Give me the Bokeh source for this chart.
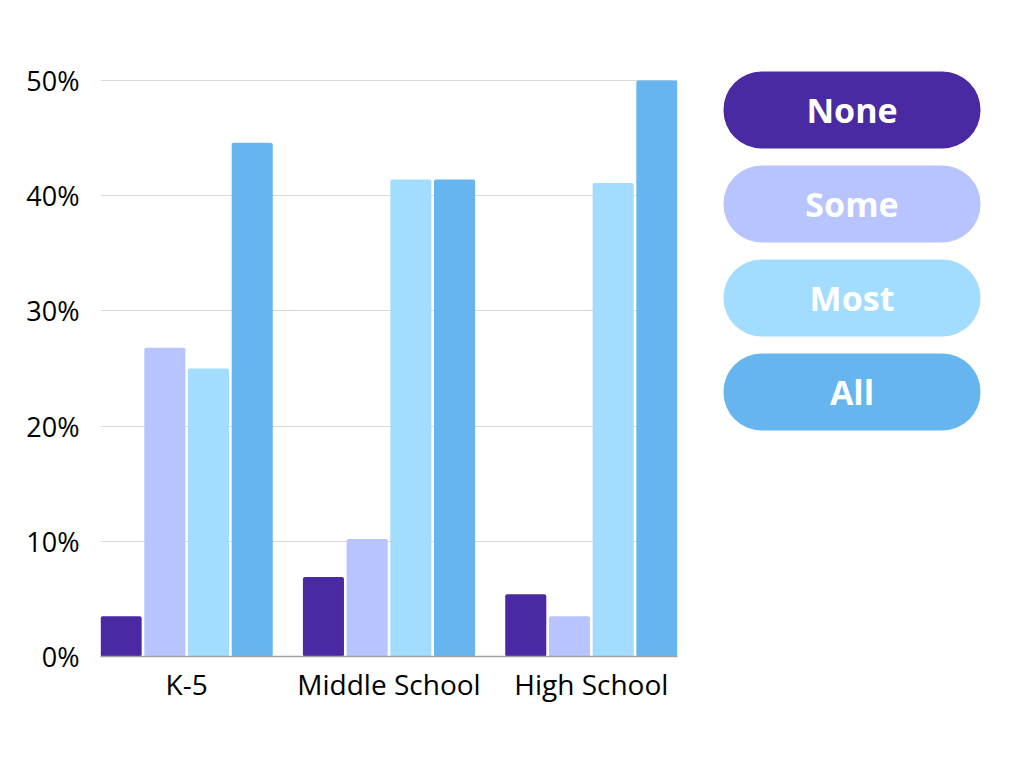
from bokeh.plotting import figure
from bokeh.layouts import row
from bokeh.models import Range1d, FixedTicker, ColumnDataSource
from bokeh.core.properties import value
from bokeh.embed import file_html
from bokeh.resources import INLINE

categories = ["K-5", "Middle School", "High School"]
series = ["None", "Some", "Most", "All"]
none_vals = [3.5, 6.9, 5.4]
some_vals = [26.8, 10.2, 3.5]
most_vals = [25.0, 41.4, 41.1]
all_vals = [44.6, 41.4, 50.0]
colors = ["#4A2AA3", "#B8C4FE", "#A2DCFE", "#66B5EE"]
y_ticks = [0, 10, 20, 30, 40, 50]

FONT = "Open Sans"
values_by_series = [none_vals, some_vals, most_vals, all_vals]
offsets = [-0.324, -0.108, 0.108, 0.324]
bar_w = 0.203

# frame: page x 100..677, page y 57..656 (0..52 %)
p = figure(width=700, height=752, output_backend="svg", toolbar_location=None,
           x_range=Range1d(-0.426, 2.426), y_range=Range1d(0, 52),
           min_border_left=100, min_border_right=23, min_border_top=57,
           min_border_bottom=96)
p.outline_line_color = None
p.background_fill_color = "white"
p.border_fill_color = "white"

for s, vals, off, col in zip(series, values_by_series, offsets, colors):
    src = ColumnDataSource(dict(x=[i + off for i in range(len(categories))], top=vals))
    p.vbar(x="x", top="top", bottom=0, width=bar_w, source=src, fill_color=col,
           line_color=None, border_radius=2)

p.xgrid.visible = False
p.ygrid.grid_line_color = "#d9d9d9"
p.ygrid.grid_line_width = 1
p.ygrid.ticker = FixedTicker(ticks=y_ticks)

p.yaxis.ticker = FixedTicker(ticks=y_ticks)
p.yaxis.major_label_overrides = {t: f"{t}%" for t in y_ticks}
p.yaxis.axis_line_color = None
p.yaxis.major_tick_line_color = None
p.yaxis.minor_tick_line_color = None
p.yaxis.major_label_standoff = 15
p.yaxis.major_label_text_font = FONT
p.yaxis.major_label_text_font_size = "27px"
p.yaxis.major_label_text_color = "#000000"

p.xaxis.ticker = FixedTicker(ticks=list(range(len(categories))))
p.xaxis.major_label_overrides = {i: c for i, c in enumerate(categories)}
p.xaxis.axis_line_color = "#a0a0a0"
p.xaxis.axis_line_width = 1.5
p.xaxis.major_tick_line_color = None
p.xaxis.minor_tick_line_color = None
p.xaxis.major_label_standoff = 2
p.xaxis.major_label_text_font = FONT
p.xaxis.major_label_text_font_size = "28px"
p.xaxis.major_label_text_color = "#000000"

# legend panel (its frame is aligned with the main frame: page y 57..656)
lg = figure(width=308, height=752, output_backend="svg", toolbar_location=None,
            x_range=Range1d(0, 308), y_range=Range1d(656, 57),
            x_axis_location=None, y_axis_location=None,
            min_border_left=0, min_border_right=0, min_border_top=57,
            min_border_bottom=96)
lg.outline_line_color = None
lg.xgrid.visible = False
lg.ygrid.visible = False
pill_top0, pill_h, pill_pitch = 71, 77, 94
tops = [pill_top0 + i * pill_pitch for i in range(len(series))]
lsrc = ColumnDataSource(dict(left=[23] * 4, right=[280] * 4, top=tops,
                             bottom=[t + pill_h for t in tops], color=colors,
                             label=series, xc=[151.5] * 4,
                             yc=[t + pill_h / 2 for t in tops]))
lg.quad(left="left", right="right", top="top", bottom="bottom", fill_color="color",
        line_color=None, border_radius=38, source=lsrc)
lg.text(x="xc", y="yc", text="label", source=lsrc, text_color="white",
        text_font=value(FONT), text_font_style="bold", text_font_size="34px",
        text_align="center", text_baseline="middle")

layout = row(p, lg, spacing=0)
open("out.html", "w").write(file_html(layout, INLINE))
